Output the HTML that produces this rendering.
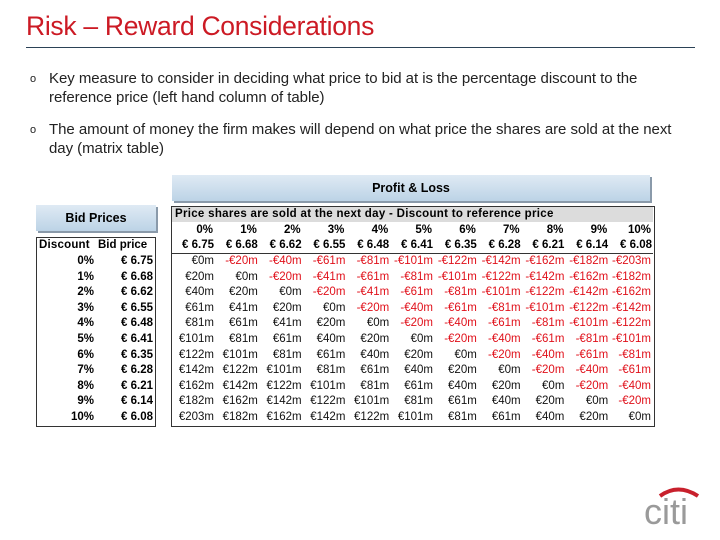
<!DOCTYPE html>
<html><head><meta charset="utf-8"><style>
body{margin:0;width:720px;height:540px;background:#fff;position:relative;overflow:hidden;font-family:"Liberation Sans",Arial,sans-serif}
.a{position:absolute}
.t{position:absolute;font-size:11.5px;white-space:nowrap;line-height:14px}
.hdr{background:linear-gradient(#dfeaf4,#bcd3e6);box-shadow:2px 2px 0 #8a9aaa;}
</style></head><body>
<div class="a" style="left:26px;top:11px;font-size:26.5px;color:#cc1a24;letter-spacing:-0.3px">Risk – Reward Considerations</div>
<div class="a" style="left:26px;top:47px;width:669px;height:1px;background:#2b4256"></div>
<div class="a" style="left:30px;top:69px;font-size:15px;color:#222;line-height:19px;white-space:nowrap;letter-spacing:-0.05px"><span style="position:absolute;left:0;top:1px;font-size:11px">o</span><div style="margin-left:19px">Key measure to consider in deciding what price to bid at is the percentage discount to the<br>reference price (left hand column of table)</div></div>
<div class="a" style="left:30px;top:120px;font-size:15px;color:#222;line-height:19px;white-space:nowrap;letter-spacing:-0.05px"><span style="position:absolute;left:0;top:1px;font-size:11px">o</span><div style="margin-left:19px">The amount of money the firm makes will depend on what price the shares are sold at the next<br>day (matrix table)</div></div>

<div class="a hdr" style="left:172px;top:175px;width:478px;height:26px;text-align:center;font-size:12.5px;font-weight:bold;line-height:27px">Profit &amp; Loss</div>
<div class="a hdr" style="left:36px;top:205px;width:120px;height:26px;text-align:center;font-size:12.5px;font-weight:bold;line-height:27px">Bid Prices</div>

<div class="a" style="left:36px;top:237px;width:118px;height:188px;border:1px solid #333"></div>
<div class="a" style="left:171px;top:206px;width:482px;height:219px;border:1px solid #333"></div>
<div class="a" style="left:172px;top:207px;width:481px;height:15px;background:#dcdcdc"></div>
<div class="a" style="left:172px;top:253px;width:481px;height:1px;background:#333"></div>
<div class="t" style="left:175px;top:207px;font-weight:bold;letter-spacing:0.3px">Price shares are sold at the next day - Discount to reference price</div>
<div class="t" style="left:39px;top:238px;font-weight:bold;letter-spacing:0.2px">Discount</div>
<div class="t" style="left:98px;top:238px;font-weight:bold">Bid price</div>

<svg class="a" style="left:640px;top:486px" width="70" height="44">
<path d="M20 10 Q38 -3 58 10" stroke="#c8202c" stroke-width="4" fill="none"/>
<text x="4" y="38" font-family="Liberation Sans" font-size="36" fill="#9a9a9a" letter-spacing="0">citi</text>
</svg>
<div id="cells"></div>
<script>
const discounts=["0%","1%","2%","3%","4%","5%","6%","7%","8%","9%","10%"];
const prices=["€ 6.75","€ 6.68","€ 6.62","€ 6.55","€ 6.48","€ 6.41","€ 6.35","€ 6.28","€ 6.21","€ 6.14","€ 6.08"];
const row0=[0,-20,-40,-61,-81,-101,-122,-142,-162,-182,-203];
const row1=[20,0,-20,-41,-61,-81,-101,-122,-142,-162,-182];
const row2=[40,20,0,-20,-41,-61,-81,-101,-122,-142,-162];
const row3=[61,41,20,0,-20,-40,-61,-81,-101,-122,-142];
const row4=[81,61,41,20,0,-20,-40,-61,-81,-101,-122];
const row5=[101,81,61,40,20,0,-20,-40,-61,-81,-101];
const row6=[122,101,81,61,40,20,0,-20,-40,-61,-81];
const row7=[142,122,101,81,61,40,20,0,-20,-40,-61];
const row8=[162,142,122,101,81,61,40,20,0,-20,-40];
const row9=[182,162,142,122,101,81,61,40,20,0,-20];
const row10=[203,182,162,142,122,101,81,61,40,20,0];
const pnl=[row0,row1,row2,row3,row4,row5,row6,row7,row8,row9,row10];
const root=document.getElementById('cells');
function colR(j){return 214+j*43.8;}
function rowY(i){return 254+i*15.6;}
function put(txt,right,top,bold,color,name){
  const d=document.createElement('div');
  d.className='t';
  d.textContent=txt;
  d.style.right=(720-right)+'px';
  d.style.top=top+'px';
  if(bold)d.style.fontWeight='bold';
  if(color)d.style.color=color;
  
  
  root.appendChild(d);
}
discounts.forEach((d,j)=>{put(d,colR(j)-1,223,true,null,'col-discount-'+j);});
prices.forEach((p,j)=>{put(p,colR(j),238,true,null,'col-price-'+j);});
discounts.forEach((d,i)=>{
  put(d,94,rowY(i),true,null,'row-discount-'+i);
  put(prices[i],153,rowY(i),true,null,'row-price-'+i);
  pnl[i].forEach((v,j)=>{
    const s=v<0?'-€'+(-v)+'m':'€'+v+'m';
    put(s,colR(j)+(j==10?-1:0),rowY(i),false,v<0?'#e0101a':'#111','pnl-cell-'+i+'-'+j);
  });
});
</script>
</body></html>
